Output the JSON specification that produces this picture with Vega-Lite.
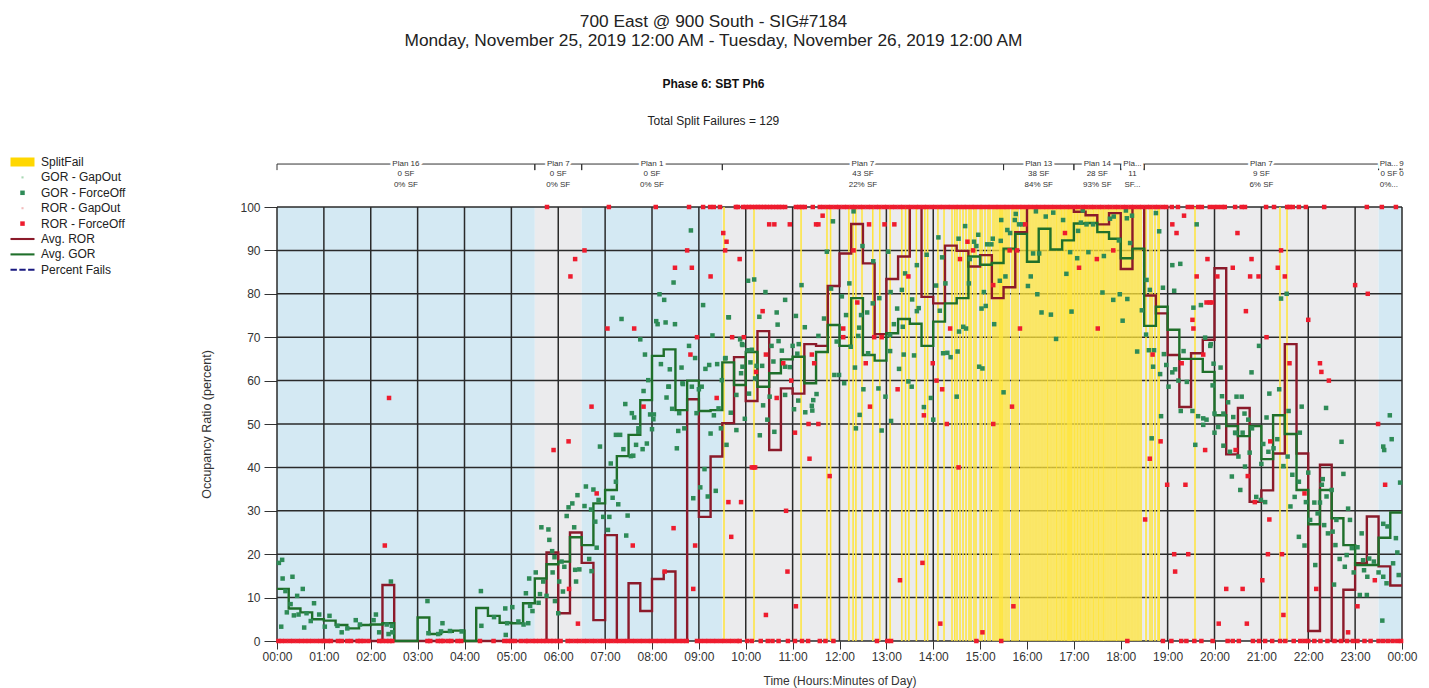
{"$schema":"https://vega.github.io/schema/vega-lite/v6.json","width":1125,"height":434,"autosize":"none","padding":{"left":277,"top":207,"right":27,"bottom":47},"background":"white","config":{"view":{"stroke":null},"font":"Liberation Sans","text":{"font":"Liberation Sans"}},"resolve":{"axis":{"x":"independent","y":"independent"}},
"title":{"text":["700 East @ 900 South - SIG#7184","Monday, November 25, 2019 12:00 AM - Tuesday, November 26, 2019 12:00 AM"],"subtitle":"Phase 6: SBT Ph6","anchor":"middle","frame":"group","dx":-126,"offset":25,"fontSize":17.3,"fontWeight":"normal","lineHeight":19,"color":"#222","font":"Liberation Sans","subtitleFont":"Liberation Sans","subtitleFontSize":12,"subtitleFontWeight":"bold","subtitleColor":"#111","subtitlePadding":30},
"datasets":{
"plans":[{"plan":16,"label":"Plan 16","sf":"0 SF","pct":"0% SF","start":0,"end":5.5,"mid":2.75},{"plan":7,"label":"Plan 7","sf":"0 SF","pct":"0% SF","start":5.5,"end":6.5,"mid":6},{"plan":1,"label":"Plan 1","sf":"0 SF","pct":"0% SF","start":6.5,"end":9.5,"mid":8},{"plan":7,"label":"Plan 7","sf":"43 SF","pct":"22% SF","start":9.5,"end":15.5,"mid":12.5},{"plan":13,"label":"Plan 13","sf":"38 SF","pct":"84% SF","start":15.5,"end":17,"mid":16.25},{"plan":14,"label":"Plan 14","sf":"28 SF","pct":"93% SF","start":17,"end":18,"mid":17.5},{"plan":15,"label":"Pla...","sf":"11","pct":"SF...","start":18,"end":18.5,"mid":18.25},{"plan":7,"label":"Plan 7","sf":"9 SF","pct":"6% SF","start":18.5,"end":23.5,"mid":21},{"plan":16,"label":"Pla...","sf":"0 SF","pct":"0%...","start":23.5,"end":23.96,"mid":23.72},{"plan":6,"label":"9","sf":"0","pct":"","start":23.96,"end":24,"mid":23.99}],
"fails":[{"t":9.536},{"t":10.176},{"t":11.18},{"t":11.733},{"t":11.81},{"t":12.2},{"t":12.29},{"t":12.35},{"t":12.48},{"t":12.71},{"t":12.86},{"t":13.08},{"t":13.33},{"t":13.41},{"t":13.48},{"t":13.64},{"t":13.82},{"t":13.88},{"t":14.1},{"t":14.23},{"t":14.4},{"t":14.46},{"t":14.507},{"t":14.571},{"t":14.635},{"t":14.699},{"t":14.763},{"t":14.805},{"t":14.869},{"t":14.912},{"t":15.0},{"t":15.04},{"t":15.104},{"t":15.168},{"t":15.211},{"t":15.275},{"t":15.317},{"t":15.36},{"t":15.403},{"t":15.424},{"t":15.445},{"t":15.467},{"t":15.488},{"t":15.531},{"t":15.573},{"t":15.616},{"t":15.68},{"t":15.723},{"t":15.765},{"t":15.808},{"t":15.872},{"t":15.915},{"t":15.957},{"t":16.0},{"t":16.043},{"t":16.085},{"t":16.128},{"t":16.171},{"t":16.213},{"t":16.256},{"t":16.299},{"t":16.341},{"t":16.384},{"t":16.427},{"t":16.448},{"t":16.491},{"t":16.533},{"t":16.576},{"t":16.619},{"t":16.64},{"t":16.683},{"t":16.725},{"t":16.747},{"t":16.789},{"t":16.811},{"t":16.853},{"t":16.875},{"t":16.896},{"t":16.917},{"t":16.939},{"t":16.96},{"t":17.003},{"t":17.024},{"t":17.067},{"t":17.088},{"t":17.131},{"t":17.152},{"t":17.195},{"t":17.237},{"t":17.259},{"t":17.301},{"t":17.323},{"t":17.365},{"t":17.408},{"t":17.429},{"t":17.472},{"t":17.515},{"t":17.536},{"t":17.579},{"t":17.621},{"t":17.643},{"t":17.685},{"t":17.728},{"t":17.771},{"t":17.813},{"t":17.856},{"t":17.899},{"t":17.92},{"t":17.963},{"t":18.005},{"t":18.048},{"t":18.091},{"t":18.133},{"t":18.176},{"t":18.219},{"t":18.261},{"t":18.304},{"t":18.347},{"t":18.389},{"t":18.432},{"t":18.539},{"t":18.624},{"t":18.667},{"t":18.731},{"t":18.795},{"t":18.82},{"t":19.584},{"t":21.397},{"t":21.547}],
"avgror":[{"t":0,"v":0},{"t":2.25,"v":12.9},{"t":2.5,"v":0},{"t":5.75,"v":20.4},{"t":6,"v":6.4},{"t":6.25,"v":25},{"t":6.5,"v":18},{"t":6.75,"v":4.8},{"t":7,"v":24.4},{"t":7.25,"v":0},{"t":7.5,"v":13.3},{"t":7.75,"v":6.9},{"t":8,"v":14.3},{"t":8.25,"v":16},{"t":8.5,"v":0},{"t":8.75,"v":55.7},{"t":9,"v":28.6},{"t":9.25,"v":42.5},{"t":9.5,"v":50.2},{"t":9.75,"v":65.4},{"t":10,"v":55.3},{"t":10.25,"v":71.4},{"t":10.5,"v":44},{"t":10.75,"v":58.2},{"t":11,"v":57},{"t":11.25,"v":68.4},{"t":11.5,"v":68},{"t":11.75,"v":81.8},{"t":12,"v":89.3},{"t":12.25,"v":96.1},{"t":12.5,"v":87},{"t":12.75,"v":70.7},{"t":13,"v":83.4},{"t":13.25,"v":88.6},{"t":13.5,"v":100},{"t":13.75,"v":79.3},{"t":14,"v":77.8},{"t":14.25,"v":91.1},{"t":14.5,"v":89.9},{"t":14.75,"v":86.3},{"t":15,"v":88.9},{"t":15.25,"v":79},{"t":15.5,"v":81.5},{"t":15.75,"v":94.2},{"t":16,"v":100},{"t":17,"v":98.9},{"t":17.25,"v":98.1},{"t":17.5,"v":96},{"t":17.75,"v":98.6},{"t":18,"v":85.7},{"t":18.25,"v":100},{"t":18.5,"v":79.6},{"t":18.75,"v":75.5},{"t":19,"v":65.9},{"t":19.25,"v":53.9},{"t":19.5,"v":66.3},{"t":19.75,"v":69.4},{"t":20,"v":85.9},{"t":20.25,"v":43},{"t":20.5,"v":53.7},{"t":20.75,"v":32.1},{"t":21,"v":34.7},{"t":21.25,"v":43.2},{"t":21.5,"v":68.4},{"t":21.75,"v":43.2},{"t":22,"v":2.3},{"t":22.25,"v":40.6},{"t":22.5,"v":0},{"t":22.75,"v":11.8},{"t":23,"v":17.9},{"t":23.25,"v":28.7},{"t":23.5,"v":17.2},{"t":23.75,"v":12.8},{"t":24,"v":12.8}],
"avggor":[{"t":0,"v":12},{"t":0.25,"v":7.5},{"t":0.5,"v":6.6},{"t":0.75,"v":5},{"t":1,"v":4.7},{"t":1.25,"v":3.7},{"t":1.5,"v":2.9},{"t":1.75,"v":3.7},{"t":2,"v":3.8},{"t":2.25,"v":4.1},{"t":2.5,"v":0},{"t":3,"v":5.4},{"t":3.25,"v":1.6},{"t":3.5,"v":2.1},{"t":3.75,"v":2.4},{"t":4,"v":0},{"t":4.25,"v":7.6},{"t":4.5,"v":5.8},{"t":4.75,"v":4.2},{"t":5,"v":4.1},{"t":5.25,"v":8.7},{"t":5.5,"v":14.4},{"t":5.75,"v":17.7},{"t":6,"v":18.3},{"t":6.25,"v":23.9},{"t":6.5,"v":22.1},{"t":6.75,"v":31.7},{"t":7,"v":34.8},{"t":7.25,"v":42.6},{"t":7.5,"v":47.5},{"t":7.75,"v":55.5},{"t":8,"v":65.7},{"t":8.25,"v":67.2},{"t":8.5,"v":53.2},{"t":8.75,"v":60},{"t":9,"v":53},{"t":9.25,"v":53.2},{"t":9.5,"v":64.2},{"t":9.75,"v":59},{"t":10,"v":66.6},{"t":10.25,"v":58.6},{"t":10.5,"v":61.7},{"t":10.75,"v":64.9},{"t":11,"v":65.5},{"t":11.25,"v":59.4},{"t":11.5,"v":66.6},{"t":11.75,"v":72.8},{"t":12,"v":68},{"t":12.25,"v":79},{"t":12.5,"v":65.9},{"t":12.75,"v":64.6},{"t":13,"v":70.9},{"t":13.25,"v":74.2},{"t":13.5,"v":73.1},{"t":13.75,"v":68},{"t":14,"v":73.6},{"t":14.25,"v":77.8},{"t":14.5,"v":79},{"t":14.75,"v":88.6},{"t":15,"v":86.7},{"t":15.25,"v":87.1},{"t":15.5,"v":90.4},{"t":15.75,"v":93.8},{"t":16,"v":87.4},{"t":16.25,"v":95},{"t":16.5,"v":90.2},{"t":16.75,"v":92.3},{"t":17,"v":96.2},{"t":17.25,"v":96.3},{"t":17.5,"v":94.2},{"t":17.75,"v":92.7},{"t":18,"v":88.2},{"t":18.25,"v":90.4},{"t":18.5,"v":72.6},{"t":18.75,"v":77},{"t":19,"v":71.7},{"t":19.25,"v":65},{"t":19.5,"v":65},{"t":19.75,"v":62},{"t":20,"v":52},{"t":20.25,"v":49.5},{"t":20.5,"v":47.2},{"t":20.75,"v":49.5},{"t":21,"v":41.9},{"t":21.25,"v":52},{"t":21.5,"v":47.7},{"t":21.75,"v":34.8},{"t":22,"v":26.9},{"t":22.25,"v":34.8},{"t":22.5,"v":28.3},{"t":22.75,"v":22.1},{"t":23,"v":17.5},{"t":23.25,"v":17.5},{"t":23.5,"v":23.8},{"t":23.75,"v":29.6},{"t":24,"v":29.6}],
"gor":[{"t":0.04,"v":18},{"t":0.11,"v":18.7},{"t":0.33,"v":14.8},{"t":0.12,"v":14.4},{"t":0.55,"v":12},{"t":0.43,"v":10.4},{"t":0.18,"v":11.5},{"t":0.79,"v":8.7},{"t":0.29,"v":8.5},{"t":0.21,"v":6.6},{"t":0.36,"v":5.9},{"t":0.46,"v":6.1},{"t":0.63,"v":6.4},{"t":0.9,"v":6.1},{"t":0.09,"v":3.3},{"t":0.58,"v":3.1},{"t":0.72,"v":4.6},{"t":1.02,"v":3.3},{"t":1.12,"v":5.8},{"t":1.29,"v":3.5},{"t":1.38,"v":2},{"t":1.5,"v":2.9},{"t":1.68,"v":4.8},{"t":1.77,"v":3.8},{"t":2.06,"v":4.8},{"t":2.11,"v":6.1},{"t":2.18,"v":2},{"t":2.38,"v":1.6},{"t":2.45,"v":3.5},{"t":2.46,"v":2},{"t":2.43,"v":13.7},{"t":2.34,"v":3.8},{"t":3.21,"v":9.2},{"t":3.53,"v":4.1},{"t":3.44,"v":1.6},{"t":3.5,"v":2.2},{"t":3.69,"v":2.3},{"t":3.94,"v":2.2},{"t":3.23,"v":1.8},{"t":4.35,"v":11.5},{"t":4.36,"v":3.5},{"t":4.63,"v":5.5},{"t":4.87,"v":7.5},{"t":5.02,"v":7.8},{"t":4.88,"v":1.4},{"t":5.15,"v":4.5},{"t":4.91,"v":4.1},{"t":5.31,"v":11},{"t":5.36,"v":4.1},{"t":5.26,"v":3.8},{"t":5.38,"v":14.4},{"t":5.52,"v":15.8},{"t":5.45,"v":6.9},{"t":5.4,"v":8.1},{"t":5.58,"v":8.8},{"t":5.61,"v":10.8},{"t":5.68,"v":13.7},{"t":5.75,"v":10.4},{"t":5.64,"v":26.2},{"t":5.79,"v":25.7},{"t":5.81,"v":23.3},{"t":5.87,"v":20.7},{"t":5.92,"v":19.3},{"t":5.88,"v":15.8},{"t":5.93,"v":9.2},{"t":6.02,"v":13.7},{"t":6,"v":6.4},{"t":6.07,"v":18.3},{"t":6.13,"v":17.1},{"t":6.1,"v":11.4},{"t":6.18,"v":28.8},{"t":6.22,"v":30.8},{"t":6.3,"v":31.7},{"t":6.34,"v":26.2},{"t":6.41,"v":33.6},{"t":6.56,"v":31.1},{"t":6.36,"v":16.4},{"t":6.45,"v":16.5},{"t":6.38,"v":13.7},{"t":6.59,"v":35.6},{"t":6.75,"v":34.9},{"t":6.7,"v":30.3},{"t":6.86,"v":32.5},{"t":6.66,"v":18.9},{"t":6.71,"v":16.1},{"t":6.82,"v":21.5},{"t":6.79,"v":27.5},{"t":6.89,"v":44.8},{"t":6.96,"v":28.6},{"t":7.09,"v":28.6},{"t":7.06,"v":25.6},{"t":7.16,"v":33},{"t":7.28,"v":31.5},{"t":7.23,"v":36.7},{"t":7.12,"v":40.9},{"t":7.23,"v":47.5},{"t":7.32,"v":47.5},{"t":7.39,"v":44.2},{"t":7.43,"v":54.6},{"t":7.48,"v":28.9},{"t":7.45,"v":24.3},{"t":7.55,"v":42.6},{"t":7.6,"v":42.7},{"t":7.57,"v":52.5},{"t":7.62,"v":51.5},{"t":7.66,"v":45.2},{"t":7.71,"v":49},{"t":7.8,"v":44.2},{"t":7.89,"v":45.5},{"t":7.82,"v":57.6},{"t":7.71,"v":48.2},{"t":8,"v":48.8},{"t":7.96,"v":52.2},{"t":8.04,"v":52.2},{"t":8.03,"v":51.1},{"t":8.31,"v":56.1},{"t":8.35,"v":58.6},{"t":8.43,"v":53.5},{"t":8.56,"v":48.4},{"t":8.69,"v":49},{"t":8.53,"v":44.4},{"t":8.58,"v":52.5},{"t":8.66,"v":59.2},{"t":8.85,"v":58.6},{"t":8.95,"v":52.5},{"t":8.88,"v":32.9},{"t":9.03,"v":35.4},{"t":9.12,"v":39.6},{"t":9.19,"v":33.3},{"t":9.36,"v":34.6},{"t":9.25,"v":47.8},{"t":9.32,"v":52},{"t":9.47,"v":49},{"t":9.59,"v":45.2},{"t":9.42,"v":53.6},{"t":8.83,"v":94.6},{"t":8.46,"v":82.6},{"t":8.16,"v":79.9},{"t":8.26,"v":78.6},{"t":9.09,"v":77.4},{"t":7.35,"v":74.2},{"t":8.09,"v":73.7},{"t":8.12,"v":73},{"t":8.29,"v":73.4},{"t":8.49,"v":73},{"t":7.75,"v":69.5},{"t":9.64,"v":74.6},{"t":7.85,"v":66},{"t":8.79,"v":68},{"t":9.29,"v":70.4},{"t":8.19,"v":63.8},{"t":8.38,"v":62.6},{"t":8.63,"v":63},{"t":8.92,"v":65.2},{"t":9.14,"v":62.7},{"t":9.22,"v":63.6},{"t":9.39,"v":63.8},{"t":9.57,"v":65.2},{"t":8.65,"v":59.4},{"t":8.36,"v":58.6},{"t":7.92,"v":60.1},{"t":9.06,"v":58.6},{"t":9,"v":58},{"t":10.05,"v":83},{"t":10.18,"v":83.3},{"t":10.42,"v":80.4},{"t":10.29,"v":74.7},{"t":10.66,"v":75.7},{"t":10.68,"v":72.9},{"t":9.88,"v":69.5},{"t":9.93,"v":68.2},{"t":10.04,"v":67},{"t":10.7,"v":69.1},{"t":10.55,"v":68},{"t":9.9,"v":61.7},{"t":10.1,"v":64.2},{"t":10.23,"v":63.4},{"t":10.35,"v":63.4},{"t":10.59,"v":64.4},{"t":9.49,"v":60.1},{"t":9.93,"v":63.2},{"t":10.07,"v":57},{"t":12.3,"v":99},{"t":11.86,"v":96.7},{"t":11.73,"v":89.7},{"t":11.19,"v":82},{"t":10.84,"v":78.6},{"t":9.63,"v":74.6},{"t":11.07,"v":74.9},{"t":11.26,"v":72.3},{"t":11.67,"v":74.3},{"t":11.55,"v":70.3},{"t":9.92,"v":68.4},{"t":10.13,"v":67.1},{"t":11,"v":68},{"t":11.13,"v":68.4},{"t":10.77,"v":66.9},{"t":10.84,"v":63.2},{"t":10.94,"v":63.1},{"t":11.1,"v":66.2},{"t":9.56,"v":65.1},{"t":10.2,"v":60.5},{"t":9.8,"v":56.7},{"t":10.37,"v":54.3},{"t":10.51,"v":56.3},{"t":10.84,"v":56.7},{"t":11.12,"v":55.4},{"t":11.41,"v":54.2},{"t":11.51,"v":56.9},{"t":11.44,"v":55.5},{"t":11.27,"v":52.7},{"t":11.42,"v":53.1},{"t":11.03,"v":53.4},{"t":9.68,"v":52.6},{"t":9.98,"v":51.2},{"t":10.46,"v":51},{"t":9.8,"v":48.6},{"t":10.3,"v":47.4},{"t":10.61,"v":48.2},{"t":11.89,"v":61.3},{"t":11.99,"v":61.3},{"t":12.1,"v":59.4},{"t":12.51,"v":58},{"t":12.83,"v":58.2},{"t":12.98,"v":56.3},{"t":13.47,"v":59.8},{"t":13.54,"v":58.6},{"t":13.8,"v":53.9},{"t":13.95,"v":56},{"t":14,"v":51},{"t":14.5,"v":56.3},{"t":14.98,"v":63.2},{"t":15.05,"v":62.8},{"t":15.5,"v":57.3},{"t":12.43,"v":52.1},{"t":12.35,"v":49},{"t":13.1,"v":50.7},{"t":12.9,"v":48.5},{"t":12.21,"v":82.4},{"t":12.05,"v":79.4},{"t":11.82,"v":81.2},{"t":12.14,"v":75.1},{"t":12.46,"v":75.1},{"t":12.59,"v":75.7},{"t":12.71,"v":77.8},{"t":12.85,"v":79},{"t":11.94,"v":69},{"t":12.24,"v":67.8},{"t":12.4,"v":70.3},{"t":12.42,"v":72.2},{"t":12.61,"v":66.3},{"t":12.72,"v":87.5},{"t":12.49,"v":91},{"t":13.04,"v":89.7},{"t":12.33,"v":63},{"t":13.08,"v":66.8},{"t":13.37,"v":66},{"t":13.59,"v":65.8},{"t":13.27,"v":62.7},{"t":13.08,"v":70.5},{"t":13.16,"v":73},{"t":13.09,"v":80.4},{"t":13.33,"v":80.9},{"t":13.23,"v":76.6},{"t":13.55,"v":78.7},{"t":13.65,"v":76},{"t":13.69,"v":76.7},{"t":13.35,"v":72.4},{"t":13.4,"v":84.7},{"t":13.65,"v":86.6},{"t":13.86,"v":89},{"t":14.11,"v":93},{"t":14.68,"v":95.6},{"t":14.06,"v":81.9},{"t":14.26,"v":82.4},{"t":14.14,"v":76.1},{"t":14.19,"v":88.4},{"t":14.21,"v":66.3},{"t":14.3,"v":66.4},{"t":14.37,"v":65.4},{"t":14.52,"v":66.7},{"t":14.64,"v":72.4},{"t":14.7,"v":72},{"t":14.55,"v":71.3},{"t":15.03,"v":76.6},{"t":15.12,"v":77.2},{"t":15.08,"v":80.4},{"t":14.76,"v":82.4},{"t":15.42,"v":83},{"t":15.54,"v":84},{"t":15.3,"v":73},{"t":14.87,"v":92},{"t":14.96,"v":93.6},{"t":14.54,"v":92.7},{"t":15.15,"v":91.4},{"t":15.24,"v":91.4},{"t":15.27,"v":92.7},{"t":15.44,"v":92.2},{"t":14.92,"v":91},{"t":14.78,"v":88},{"t":15.45,"v":97},{"t":15.76,"v":98.4},{"t":15.74,"v":97},{"t":15.83,"v":96},{"t":15.58,"v":94.7},{"t":15.64,"v":94},{"t":15.9,"v":96},{"t":16.02,"v":81.8},{"t":16.08,"v":84},{"t":16.22,"v":79.9},{"t":16.31,"v":75.7},{"t":16.51,"v":75.2},{"t":16.62,"v":69.6},{"t":16.84,"v":84.6},{"t":16.19,"v":99},{"t":16.4,"v":97.8},{"t":16.56,"v":98.7},{"t":16.77,"v":97},{"t":16.95,"v":75.9},{"t":16.13,"v":89.3},{"t":16.26,"v":89.3},{"t":16.92,"v":89.6},{"t":17.07,"v":88.2},{"t":17.31,"v":89.6},{"t":17.64,"v":88.7},{"t":17.61,"v":80.3},{"t":17.84,"v":78.6},{"t":17.98,"v":79.9},{"t":18.14,"v":78.8},{"t":17.09,"v":94.5},{"t":17.15,"v":96.4},{"t":17.27,"v":96},{"t":17.41,"v":96},{"t":17.77,"v":97.3},{"t":18.2,"v":91.7},{"t":17.96,"v":92.3},{"t":18.11,"v":99.2},{"t":18.13,"v":97.4},{"t":17.85,"v":97.8},{"t":17.19,"v":99.2},{"t":18.24,"v":98},{"t":18.75,"v":98.6},{"t":18.82,"v":94.4},{"t":19.62,"v":96},{"t":19.1,"v":86.6},{"t":19.27,"v":86.9},{"t":18.55,"v":83.2},{"t":18.62,"v":80.9},{"t":18.9,"v":81.4},{"t":19.14,"v":80.7},{"t":19.55,"v":76.8},{"t":19.71,"v":77.4},{"t":18.45,"v":76.2},{"t":18.04,"v":73.8},{"t":18.54,"v":70.6},{"t":18.35,"v":66.7},{"t":18.6,"v":67},{"t":18.71,"v":67},{"t":18.92,"v":66.1},{"t":19.8,"v":69.9},{"t":19.91,"v":68},{"t":19.92,"v":68.4},{"t":19.34,"v":66.8},{"t":20.95,"v":68},{"t":19.16,"v":62.6},{"t":19.1,"v":61.9},{"t":18.69,"v":63.2},{"t":18.97,"v":63.6},{"t":18.84,"v":61.5},{"t":19.23,"v":60},{"t":19.02,"v":58.6},{"t":19.41,"v":59.7},{"t":19.96,"v":58.9},{"t":20.13,"v":63},{"t":19.98,"v":63.9},{"t":20.79,"v":61.9},{"t":20.16,"v":56.4},{"t":20.47,"v":56.3},{"t":20.58,"v":56.3},{"t":21.17,"v":57},{"t":21.38,"v":58},{"t":20.29,"v":55},{"t":22.38,"v":53.7},{"t":21.86,"v":54},{"t":19.53,"v":53},{"t":19.28,"v":53},{"t":19.65,"v":51.8},{"t":19.76,"v":51.3},{"t":19.83,"v":51},{"t":19.76,"v":49.8},{"t":18.86,"v":51.8},{"t":20,"v":52.4},{"t":20.19,"v":52.4},{"t":20.4,"v":51.6},{"t":20.64,"v":52.4},{"t":21.11,"v":51.5},{"t":21.58,"v":53},{"t":21.42,"v":78.9},{"t":21.54,"v":80},{"t":20,"v":48},{"t":20.08,"v":49.3},{"t":20.44,"v":48},{"t":20.6,"v":48},{"t":20.72,"v":51},{"t":20.8,"v":49},{"t":23.74,"v":52},{"t":18.66,"v":46.7},{"t":19.59,"v":45.2},{"t":20.19,"v":45},{"t":20.45,"v":47.9},{"t":20.33,"v":43.6},{"t":20.51,"v":42.5},{"t":20.65,"v":40.2},{"t":20.37,"v":37.9},{"t":20.55,"v":34.8},{"t":20.75,"v":43.4},{"t":20.89,"v":33.2},{"t":20.99,"v":32.5},{"t":21.08,"v":32},{"t":21,"v":40.8},{"t":21.04,"v":45.4},{"t":21.15,"v":43.6},{"t":21.34,"v":46.5},{"t":21.26,"v":44.4},{"t":21.47,"v":40.3},{"t":21.56,"v":42.5},{"t":21.66,"v":38.3},{"t":21.8,"v":36.7},{"t":21.71,"v":33.2},{"t":21.62,"v":31},{"t":21.82,"v":48},{"t":22,"v":38.8},{"t":21.95,"v":32},{"t":22.04,"v":27.9},{"t":22.2,"v":29.4},{"t":22.13,"v":31.9},{"t":22.25,"v":31.9},{"t":22.31,"v":37.3},{"t":22.29,"v":36},{"t":22.39,"v":33.3},{"t":22.71,"v":45.9},{"t":22.75,"v":38.5},{"t":22.85,"v":30.5},{"t":22.5,"v":34.8},{"t":22.6,"v":27.9},{"t":22.89,"v":27.9},{"t":23.14,"v":24.8},{"t":21.8,"v":24},{"t":21.92,"v":22},{"t":22.34,"v":26.7},{"t":22.42,"v":24.8},{"t":22.52,"v":25.2},{"t":22.58,"v":22.1},{"t":22.93,"v":21.4},{"t":23.05,"v":21.6},{"t":22.82,"v":19.8},{"t":22.67,"v":18.9},{"t":22.78,"v":17.1},{"t":22.15,"v":17.5},{"t":22.97,"v":15.8},{"t":23.17,"v":18.6},{"t":23.19,"v":16.3},{"t":23.3,"v":19},{"t":23.4,"v":18.3},{"t":23.26,"v":14.8},{"t":23.5,"v":15.8},{"t":23.6,"v":14.8},{"t":23.67,"v":13.3},{"t":23.81,"v":17.9},{"t":23.93,"v":15.2},{"t":23.9,"v":20.4},{"t":23.69,"v":26.4},{"t":23.6,"v":27},{"t":23.87,"v":23.7},{"t":23.6,"v":44.8},{"t":23.62,"v":44},{"t":23.78,"v":46.5},{"t":23.96,"v":36.5},{"t":23.58,"v":4.7},{"t":22.55,"v":13},{"t":23.1,"v":10.6},{"t":23.25,"v":10.6}],
"ror":[{"t":2.39,"v":56},{"t":2.3,"v":22},{"t":5.9,"v":44},{"t":6.22,"v":46},{"t":6.71,"v":54},{"t":7.82,"v":54},{"t":6.82,"v":34},{"t":9.38,"v":56},{"t":9.63,"v":32},{"t":8.46,"v":26},{"t":7.59,"v":22},{"t":8.92,"v":22},{"t":8.88,"v":12},{"t":6.23,"v":12},{"t":6.42,"v":4},{"t":8.27,"v":16},{"t":6.26,"v":84},{"t":6.36,"v":88},{"t":6.56,"v":90},{"t":7.05,"v":72},{"t":7.62,"v":72},{"t":8.75,"v":90},{"t":8.49,"v":86},{"t":8.85,"v":86},{"t":9.25,"v":84},{"t":8.96,"v":70},{"t":8.82,"v":66},{"t":9.52,"v":94},{"t":9.59,"v":92},{"t":9.56,"v":90},{"t":9.87,"v":88},{"t":9.71,"v":70},{"t":9.96,"v":70},{"t":10.36,"v":76},{"t":10.43,"v":66},{"t":10.5,"v":96},{"t":10.61,"v":96},{"t":10.94,"v":96},{"t":11.5,"v":96},{"t":11.55,"v":96},{"t":11.64,"v":98},{"t":12.63,"v":96},{"t":12.96,"v":96},{"t":13.17,"v":96},{"t":12.3,"v":90},{"t":13.47,"v":84},{"t":12.38,"v":78},{"t":12.08,"v":72},{"t":12.08,"v":70},{"t":10.22,"v":62},{"t":10.8,"v":64},{"t":11.41,"v":66},{"t":11.46,"v":64},{"t":10.97,"v":60},{"t":10.66,"v":56},{"t":11.05,"v":48},{"t":11.34,"v":50},{"t":11.55,"v":50},{"t":12.56,"v":64},{"t":13.99,"v":64},{"t":14.07,"v":60},{"t":14.19,"v":58},{"t":13.24,"v":58},{"t":12.65,"v":54},{"t":13.8,"v":52},{"t":14.29,"v":50},{"t":15.28,"v":50},{"t":15.68,"v":54},{"t":14.36,"v":72},{"t":15.85,"v":72},{"t":14.57,"v":88},{"t":14.73,"v":92},{"t":14.85,"v":90},{"t":15.63,"v":90},{"t":15.79,"v":90},{"t":15.28,"v":82},{"t":15.96,"v":96},{"t":16.81,"v":94},{"t":12.74,"v":70},{"t":12.9,"v":70},{"t":10.13,"v":40},{"t":10.17,"v":40},{"t":10.2,"v":40},{"t":9.9,"v":32},{"t":10.86,"v":30},{"t":9.69,"v":24},{"t":10.89,"v":16},{"t":10.43,"v":6},{"t":11.07,"v":8},{"t":11.36,"v":42},{"t":11.79,"v":38},{"t":14.54,"v":40},{"t":13.29,"v":14},{"t":13.77,"v":18},{"t":14.15,"v":4},{"t":15.05,"v":2},{"t":15.71,"v":8},{"t":18.52,"v":28},{"t":18.62,"v":42},{"t":18.85,"v":46},{"t":18.99,"v":36},{"t":19.38,"v":36},{"t":19.14,"v":20},{"t":19.44,"v":20},{"t":19.16,"v":16},{"t":19.35,"v":98},{"t":19.1,"v":96},{"t":19.19,"v":94},{"t":20.49,"v":94},{"t":19.85,"v":88},{"t":20.79,"v":88},{"t":20.39,"v":86},{"t":21.35,"v":86},{"t":19.62,"v":84},{"t":20.06,"v":84},{"t":20.76,"v":84},{"t":20.94,"v":84},{"t":21.5,"v":84},{"t":21.42,"v":90},{"t":23,"v":82},{"t":23.27,"v":80},{"t":19.83,"v":78},{"t":19.9,"v":78},{"t":19.94,"v":78},{"t":20.67,"v":76},{"t":19.53,"v":74},{"t":19.55,"v":72},{"t":22,"v":74},{"t":21.11,"v":70},{"t":21.6,"v":64},{"t":22.25,"v":64},{"t":22.28,"v":62},{"t":22.44,"v":60},{"t":19.76,"v":66},{"t":19.3,"v":64},{"t":18.68,"v":66},{"t":17.11,"v":86},{"t":17.49,"v":88},{"t":17.84,"v":90},{"t":17.51,"v":72},{"t":19.8,"v":44},{"t":20.45,"v":44},{"t":21.19,"v":46},{"t":20.71,"v":38},{"t":21.92,"v":34},{"t":20.86,"v":32},{"t":21.17,"v":28},{"t":21.14,"v":20},{"t":21.44,"v":20},{"t":21.02,"v":14},{"t":23.42,"v":14},{"t":20.25,"v":12},{"t":20.6,"v":12},{"t":22.17,"v":12},{"t":20.09,"v":4},{"t":20.69,"v":4},{"t":21.47,"v":6},{"t":23.05,"v":8},{"t":22.85,"v":2},{"t":23.64,"v":36},{"t":23.49,"v":50},
{"t":5.76,"v":100},{"t":7.08,"v":100},{"t":8.08,"v":100},{"t":8.79,"v":100},{"t":9.09,"v":100},{"t":9.24,"v":100},{"t":9.32,"v":100},{"t":9.45,"v":100},{"t":9.79,"v":100},{"t":9.83,"v":100},{"t":9.94,"v":100},{"t":10,"v":100},{"t":10.07,"v":100},{"t":10.13,"v":100},{"t":10.2,"v":100},{"t":10.26,"v":100},{"t":10.32,"v":100},{"t":10.39,"v":100},{"t":10.45,"v":100},{"t":10.52,"v":100},{"t":10.58,"v":100},{"t":10.65,"v":100},{"t":10.71,"v":100},{"t":10.77,"v":100},{"t":10.84,"v":100},{"t":11.07,"v":100},{"t":11.14,"v":100},{"t":11.2,"v":100},{"t":11.26,"v":100},{"t":11.43,"v":100},{"t":11.58,"v":100},{"t":11.66,"v":100},{"t":11.75,"v":100},{"t":11.83,"v":100},{"t":11.92,"v":100},{"t":12,"v":100},{"t":12.09,"v":100},{"t":12.17,"v":100},{"t":12.26,"v":100},{"t":12.34,"v":100},{"t":12.43,"v":100},{"t":12.51,"v":100},{"t":12.6,"v":100},{"t":12.68,"v":100},{"t":12.77,"v":100},{"t":12.85,"v":100},{"t":12.94,"v":100},{"t":13.02,"v":100},{"t":13.11,"v":100},{"t":13.19,"v":100},{"t":13.28,"v":100},{"t":13.36,"v":100},{"t":13.45,"v":100},{"t":13.53,"v":100},{"t":13.62,"v":100},{"t":13.7,"v":100},{"t":13.79,"v":100},{"t":13.87,"v":100},{"t":13.96,"v":100},{"t":14.04,"v":100},{"t":14.13,"v":100},{"t":14.21,"v":100},{"t":14.3,"v":100},{"t":14.38,"v":100},{"t":14.47,"v":100},{"t":14.55,"v":100},{"t":14.64,"v":100},{"t":14.72,"v":100},{"t":14.81,"v":100},{"t":14.89,"v":100},{"t":14.98,"v":100},{"t":15.06,"v":100},{"t":15.15,"v":100},{"t":15.23,"v":100},{"t":15.32,"v":100},{"t":15.4,"v":100},{"t":15.49,"v":100},{"t":15.57,"v":100},{"t":15.66,"v":100},{"t":15.74,"v":100},{"t":15.83,"v":100},{"t":15.91,"v":100},{"t":16,"v":100},{"t":16.08,"v":100},{"t":16.17,"v":100},{"t":16.25,"v":100},{"t":16.34,"v":100},{"t":16.42,"v":100},{"t":16.51,"v":100},{"t":16.59,"v":100},{"t":16.68,"v":100},{"t":16.76,"v":100},{"t":16.85,"v":100},{"t":16.93,"v":100},{"t":17.02,"v":100},{"t":17.1,"v":100},{"t":17.19,"v":100},{"t":17.27,"v":100},{"t":17.36,"v":100},{"t":17.44,"v":100},{"t":17.53,"v":100},{"t":17.61,"v":100},{"t":17.7,"v":100},{"t":17.78,"v":100},{"t":17.87,"v":100},{"t":17.95,"v":100},{"t":18.04,"v":100},{"t":18.12,"v":100},{"t":18.21,"v":100},{"t":18.29,"v":100},{"t":18.38,"v":100},{"t":18.46,"v":100},{"t":18.55,"v":100},{"t":18.63,"v":100},{"t":18.72,"v":100},{"t":18.8,"v":100},{"t":18.89,"v":100},{"t":18.97,"v":100},{"t":19.09,"v":100},{"t":19.22,"v":100},{"t":19.43,"v":100},{"t":19.52,"v":100},{"t":19.65,"v":100},{"t":19.73,"v":100},{"t":19.9,"v":100},{"t":19.99,"v":100},{"t":20.07,"v":100},{"t":20.16,"v":100},{"t":20.22,"v":100},{"t":20.44,"v":100},{"t":20.58,"v":100},{"t":20.65,"v":100},{"t":21.1,"v":100},{"t":21.27,"v":100},{"t":21.55,"v":100},{"t":21.6,"v":100},{"t":21.67,"v":100},{"t":21.8,"v":100},{"t":21.95,"v":100},{"t":22.34,"v":100},{"t":23.25,"v":100},{"t":23.57,"v":100},{"t":23.87,"v":100},
{"t":0.03,"v":0},{"t":0.1,"v":0},{"t":0.18,"v":0},{"t":0.27,"v":0},{"t":0.35,"v":0},{"t":0.44,"v":0},{"t":0.52,"v":0},{"t":0.6,"v":0},{"t":0.68,"v":0},{"t":0.76,"v":0},{"t":0.85,"v":0},{"t":0.93,"v":0},{"t":1,"v":0},{"t":1.08,"v":0},{"t":1.15,"v":0},{"t":1.3,"v":0},{"t":1.38,"v":0},{"t":1.5,"v":0},{"t":1.58,"v":0},{"t":1.72,"v":0},{"t":1.78,"v":0},{"t":1.85,"v":0},{"t":1.95,"v":0},{"t":2.18,"v":0},{"t":2.25,"v":0},{"t":2.33,"v":0},{"t":2.4,"v":0},{"t":2.46,"v":0},{"t":3.21,"v":0},{"t":3.27,"v":0},{"t":3.43,"v":0},{"t":3.5,"v":0},{"t":3.55,"v":0},{"t":3.65,"v":0},{"t":3.72,"v":0},{"t":3.85,"v":0},{"t":3.93,"v":0},{"t":4.33,"v":0},{"t":4.62,"v":0},{"t":4.85,"v":0},{"t":4.93,"v":0},{"t":5,"v":0},{"t":5.08,"v":0},{"t":5.2,"v":0},{"t":5.3,"v":0},{"t":5.36,"v":0},{"t":5.45,"v":0},{"t":5.52,"v":0},{"t":5.6,"v":0},{"t":5.68,"v":0},{"t":5.75,"v":0},{"t":5.83,"v":0},{"t":5.9,"v":0},{"t":5.98,"v":0},{"t":6.05,"v":0},{"t":6.2,"v":0},{"t":6.28,"v":0},{"t":6.37,"v":0},{"t":6.45,"v":0},{"t":6.54,"v":0},{"t":6.62,"v":0},{"t":6.71,"v":0},{"t":6.79,"v":0},{"t":6.88,"v":0},{"t":6.96,"v":0},{"t":7.05,"v":0},{"t":7.13,"v":0},{"t":7.22,"v":0},{"t":7.3,"v":0},{"t":7.39,"v":0},{"t":7.47,"v":0},{"t":7.56,"v":0},{"t":7.64,"v":0},{"t":7.73,"v":0},{"t":7.81,"v":0},{"t":7.9,"v":0},{"t":7.98,"v":0},{"t":8.07,"v":0},{"t":8.15,"v":0},{"t":8.24,"v":0},{"t":8.32,"v":0},{"t":8.41,"v":0},{"t":8.49,"v":0},{"t":8.58,"v":0},{"t":8.66,"v":0},{"t":8.74,"v":0},{"t":8.96,"v":0},{"t":9.04,"v":0},{"t":9.13,"v":0},{"t":9.21,"v":0},{"t":9.3,"v":0},{"t":9.38,"v":0},{"t":9.47,"v":0},{"t":9.55,"v":0},{"t":9.64,"v":0},{"t":9.72,"v":0},{"t":9.81,"v":0},{"t":9.87,"v":0},{"t":10.03,"v":0},{"t":10.13,"v":0},{"t":10.32,"v":0},{"t":10.47,"v":0},{"t":10.57,"v":0},{"t":10.7,"v":0},{"t":10.9,"v":0},{"t":11.05,"v":0},{"t":11.2,"v":0},{"t":11.33,"v":0},{"t":11.58,"v":0},{"t":11.7,"v":0},{"t":11.87,"v":0},{"t":12.8,"v":0},{"t":13.02,"v":0},{"t":13.1,"v":0},{"t":14.92,"v":0},{"t":15.45,"v":0},{"t":18.14,"v":0},{"t":18.9,"v":0},{"t":19.08,"v":0},{"t":19.29,"v":0},{"t":19.4,"v":0},{"t":19.57,"v":0},{"t":19.72,"v":0},{"t":19.96,"v":0},{"t":20.28,"v":0},{"t":20.39,"v":0},{"t":20.52,"v":0},{"t":20.82,"v":0},{"t":20.95,"v":0},{"t":21.08,"v":0},{"t":21.23,"v":0},{"t":21.4,"v":0},{"t":21.51,"v":0},{"t":21.69,"v":0},{"t":21.83,"v":0},{"t":21.92,"v":0},{"t":22.0,"v":0},{"t":22.13,"v":0},{"t":22.26,"v":0},{"t":22.41,"v":0},{"t":22.56,"v":0},{"t":22.7,"v":0},{"t":22.83,"v":0},{"t":22.95,"v":0},{"t":23.05,"v":0},{"t":23.2,"v":0},{"t":23.33,"v":0},{"t":23.5,"v":0},{"t":23.6,"v":0},{"t":23.7,"v":0},{"t":23.8,"v":0},{"t":23.9,"v":0},{"t":23.98,"v":0}]
},
"layer":[
{"data":{"name":"plans"},"mark":{"type":"rect"},"encoding":{"x":{"field":"start","type":"quantitative","scale":{"domain":[0,24]},"axis":null},"x2":{"field":"end"},"y":{"datum":0,"scale":{"domain":[0,100]},"axis":null},"y2":{"datum":100},"color":{"condition":{"test":"datum.plan==16||datum.plan==1||datum.plan==6","value":"#d4e9f3"},"value":"#ebebed"}}},
{"data":{"values":[{"g":0},{"g":1},{"g":2},{"g":3},{"g":4},{"g":5},{"g":6},{"g":7},{"g":8},{"g":9},{"g":10},{"g":11},{"g":12},{"g":13},{"g":14},{"g":19},{"g":20},{"g":21},{"g":22},{"g":23},{"g":24}]},"mark":{"type":"rule","color":"#2a2a2a","strokeWidth":1.5},"encoding":{"x":{"field":"g","type":"quantitative","scale":{"domain":[0,24]},"axis":null}}},
{"data":{"values":[{"g":0},{"g":10},{"g":20},{"g":30},{"g":40},{"g":50},{"g":60},{"g":70},{"g":80},{"g":90},{"g":100}]},"mark":{"type":"rule","color":"#2a2a2a","strokeWidth":1.5},"encoding":{"y":{"field":"g","type":"quantitative","scale":{"domain":[0,100]},"axis":null}}},
{"data":{"name":"fails"},"mark":{"type":"rule","color":"#ffe53a","strokeWidth":1.5},"encoding":{"x":{"field":"t","type":"quantitative","scale":{"domain":[0,24]},"axis":null}}},
{"data":{"name":"avgror"},"mark":{"type":"line","interpolate":"step-after","color":"#8b1a2a","strokeWidth":2.4,"clip":false},"encoding":{"x":{"field":"t","type":"quantitative","scale":{"domain":[0,24]},"axis":{"title":"Time (Hours:Minutes of Day)","values":[0,1,2,3,4,5,6,7,8,9,10,11,12,13,14,15,16,17,18,19,20,21,22,23,24],"labelExpr":"(datum.value%24<10?'0':'')+(datum.value%24)+':00'","grid":false,"domain":false,"tickSize":8,"tickColor":"#333","labelFontSize":12,"labelColor":"#333","labelPadding":2,"titleFontSize":12,"titleFontWeight":"normal","titleColor":"#333","titlePadding":13,"labelFont":"Liberation Sans","titleFont":"Liberation Sans","labelOverlap":false,"labelFlush":false}},"y":{"field":"v","type":"quantitative","scale":{"domain":[0,100]},"axis":{"title":"Occupancy Ratio (percent)","values":[0,10,20,30,40,50,60,70,80,90,100],"grid":false,"domain":false,"tickSize":13,"tickColor":"#333","labelFontSize":12,"labelColor":"#333","labelPadding":4,"titleFontSize":12.5,"titleFontWeight":"normal","titleColor":"#333","titlePadding":26,"labelFont":"Liberation Sans","titleFont":"Liberation Sans"}}}},
{"data":{"name":"avggor"},"mark":{"type":"line","interpolate":"step-after","color":"#1f6f2a","strokeWidth":2.4,"clip":false},"encoding":{"x":{"field":"t","type":"quantitative","scale":{"domain":[0,24]},"axis":null},"y":{"field":"v","type":"quantitative","scale":{"domain":[0,100]},"axis":null}}},
{"data":{"name":"gor"},"mark":{"type":"point","filled":true,"size":225,"opacity":1,"clip":false},"encoding":{"x":{"field":"t","type":"quantitative","scale":{"domain":[0,24]},"axis":null},"y":{"field":"v","type":"quantitative","scale":{"domain":[0,100]},"axis":null},
"color":{"datum":"GOR - ForceOff","scale":{"domain":["SplitFail","GOR - GapOut","GOR - ForceOff","ROR - GapOut","ROR - ForceOff","Avg. ROR","Avg. GOR","Percent Fails"],"range":["#ffd700","#a9d8b4","#2e8b57","#f2bcbc","#ee1c2e","#8b1a2a","#1f6f2a","#1a1a80"]},"legend":{"title":null,"orient":"none","legendX":-262,"legendY":-52.5,"symbolSize":225,"symbolStrokeWidth":0,"symbolOpacity":1,"labelFontSize":12,"labelColor":"#222","labelFont":"Liberation Sans","labelOffset":11,"rowPadding":1.4,"padding":0,"labelLimit":200}},
"shape":{"datum":"GOR - ForceOff","scale":{"domain":["SplitFail","GOR - GapOut","GOR - ForceOff","ROR - GapOut","ROR - ForceOff","Avg. ROR","Avg. GOR","Percent Fails"],"range":["M-1.6,-0.6H1.6V0.6H-1.6Z","M-0.14,-0.14H0.14V0.14H-0.14Z","M-0.3,-0.3H0.3V0.3H-0.3Z","M-0.14,-0.14H0.14V0.14H-0.14Z","M-0.3,-0.3H0.3V0.3H-0.3Z","M-1.6,-0.14H1.6V0.14H-1.6Z","M-1.6,-0.14H1.6V0.14H-1.6Z","M-1.6,-0.14H-0.75V0.14H-1.6ZM-0.42,-0.14H0.42V0.14H-0.42ZM0.75,-0.14H1.6V0.14H0.75Z"]},"legend":{"title":null,"orient":"none","legendX":-262,"legendY":-52.5}}}},
{"data":{"name":"ror"},"mark":{"type":"point","filled":true,"size":225,"opacity":1,"clip":false},"encoding":{"x":{"field":"t","type":"quantitative","scale":{"domain":[0,24]},"axis":null},"y":{"field":"v","type":"quantitative","scale":{"domain":[0,100]},"axis":null},
"color":{"datum":"ROR - ForceOff","scale":{"domain":["SplitFail","GOR - GapOut","GOR - ForceOff","ROR - GapOut","ROR - ForceOff","Avg. ROR","Avg. GOR","Percent Fails"],"range":["#ffd700","#a9d8b4","#2e8b57","#f2bcbc","#ee1c2e","#8b1a2a","#1f6f2a","#1a1a80"]},"legend":null},
"shape":{"datum":"ROR - ForceOff","scale":{"domain":["SplitFail","GOR - GapOut","GOR - ForceOff","ROR - GapOut","ROR - ForceOff","Avg. ROR","Avg. GOR","Percent Fails"],"range":["M-1.6,-0.6H1.6V0.6H-1.6Z","M-0.14,-0.14H0.14V0.14H-0.14Z","M-0.3,-0.3H0.3V0.3H-0.3Z","M-0.14,-0.14H0.14V0.14H-0.14Z","M-0.3,-0.3H0.3V0.3H-0.3Z","M-1.6,-0.14H1.6V0.14H-1.6Z","M-1.6,-0.14H1.6V0.14H-1.6Z","M-1.6,-0.14H-0.75V0.14H-1.6ZM-0.42,-0.14H0.42V0.14H-0.42ZM0.75,-0.14H1.6V0.14H0.75Z"]},"legend":null}}},
{"data":{"name":"plans"},"mark":{"type":"rule","color":"#333","strokeWidth":1},"encoding":{"x":{"field":"start","type":"quantitative","scale":{"domain":[0,24]},"axis":null},"x2":{"field":"end"},"y":{"datum":109.9,"scale":{"domain":[0,100]},"axis":null}}},
{"data":{"name":"plans"},"mark":{"type":"rule","color":"#333","strokeWidth":1},"encoding":{"x":{"field":"start","type":"quantitative","scale":{"domain":[0,24]},"axis":null},"y":{"datum":109.9,"scale":{"domain":[0,100]},"axis":null},"y2":{"datum":108.5}}},
{"data":{"name":"plans"},"mark":{"type":"rule","color":"#333","strokeWidth":1},"encoding":{"x":{"field":"end","type":"quantitative","scale":{"domain":[0,24]},"axis":null},"y":{"datum":109.9,"scale":{"domain":[0,100]},"axis":null},"y2":{"datum":108.5}}},
{"data":{"name":"plans"},"mark":{"type":"text","fontSize":8,"stroke":"white","strokeWidth":5,"font":"Liberation Sans"},"encoding":{"x":{"field":"mid","type":"quantitative","scale":{"domain":[0,24]},"axis":null},"y":{"datum":110,"scale":{"domain":[0,100]},"axis":null},"text":{"field":"label"}}},
{"data":{"name":"plans"},"mark":{"type":"text","fontSize":8,"color":"#333","font":"Liberation Sans"},"encoding":{"x":{"field":"mid","type":"quantitative","scale":{"domain":[0,24]},"axis":null},"y":{"datum":110,"scale":{"domain":[0,100]},"axis":null},"text":{"field":"label"}}},
{"data":{"name":"plans"},"mark":{"type":"text","fontSize":8,"color":"#333","font":"Liberation Sans"},"encoding":{"x":{"field":"mid","type":"quantitative","scale":{"domain":[0,24]},"axis":null},"y":{"datum":107.6,"scale":{"domain":[0,100]},"axis":null},"text":{"field":"sf"}}},
{"data":{"name":"plans"},"mark":{"type":"text","fontSize":8,"color":"#333","font":"Liberation Sans"},"encoding":{"x":{"field":"mid","type":"quantitative","scale":{"domain":[0,24]},"axis":null},"y":{"datum":105,"scale":{"domain":[0,100]},"axis":null},"text":{"field":"pct"}}},
{"data":{"values":[{"text":"Total Split Failures = 129"}]},"mark":{"type":"text","fontSize":12,"color":"#222","font":"Liberation Sans"},"encoding":{"x":{"datum":9.31,"scale":{"domain":[0,24]},"axis":null},"y":{"datum":119.8,"scale":{"domain":[0,100]},"axis":null},"text":{"field":"text"}}}
]}
